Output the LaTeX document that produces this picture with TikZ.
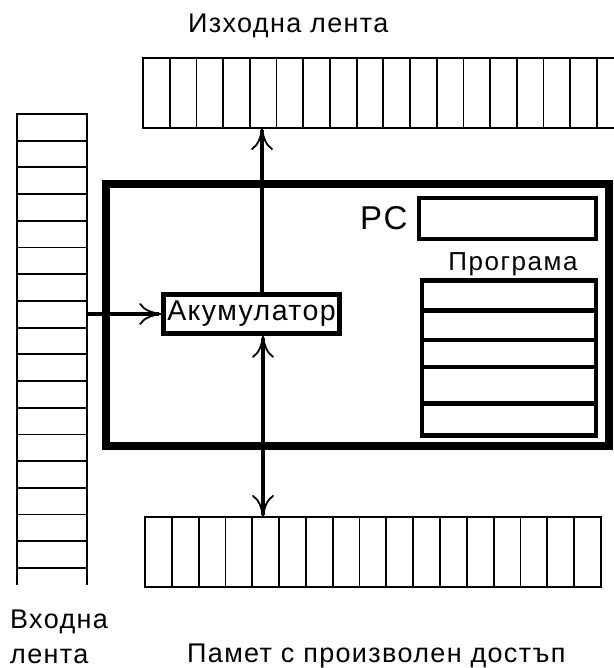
\documentclass[tikz,border=0pt]{standalone}
\usepackage{fontspec}
\setmainfont{Liberation Sans}[LetterSpace=5]
\usetikzlibrary{arrows.meta, positioning, calc}

\begin{document}
\begin{tikzpicture}[x=1pt, y=-1pt,
    tape/.style={draw, line width=1.8pt, inner sep=0pt, outer sep=0pt},
    frame/.style={draw, line width=8pt},
    reg/.style={draw, line width=4.5pt, inner sep=0pt},
    row/.style={line width=4.5pt},
    label/.style={inner sep=0pt, font=\fontsize{27}{35}\selectfont},
    flow/.style={line width=4pt, -{To[length=22pt, width=22pt, line width=1.8pt]}},
    biflow/.style={line width=4pt, {To[length=22pt, width=22pt, line width=1.8pt]}-{To[length=22pt, width=22pt, line width=1.8pt]}}]
  \useasboundingbox (0,0) rectangle (613,668);

  % main frame
  \draw[frame] (106,184) rectangle (609,446);

  % tapes
  \node[tape, minimum width=490pt, minimum height=70pt, anchor=north west] (outtape) at (143,58) {};
  \foreach \i in {1,...,17}
    \draw[tape] (143+\i*26.7,58) -- (143+\i*26.7,128);
  \node[inner sep=0pt, outer sep=0pt, minimum width=70pt, minimum height=471pt, anchor=north west] (intape) at (17,114) {};
  \draw[tape] (intape.south west) |- (intape.north east) -- (intape.south east);
  \foreach \i in {1,...,17}
    \draw[tape] (17,114+\i*26.7) -- (87,114+\i*26.7);
  \node[tape, minimum width=456pt, minimum height=70pt, anchor=north west] (memtape) at (145,517) {};
  \foreach \i in {1,...,16}
    \draw[tape] (145+\i*26.82,517) -- (145+\i*26.82,587);

  % registers
  \node[reg, minimum width=176pt, minimum height=39pt, font=\fontsize{28.5}{30}\selectfont] (acc) at (251.5,314) {Акумулатор};
  \node[reg, minimum width=177pt, minimum height=41pt] (pc) at (507.5,218.5) {};
  \node[label, font=\fontsize{33}{36}\selectfont, left=9pt of pc] (pclbl) {PC};
  \node[reg, minimum width=174pt, minimum height=155pt] (prog) at (509,358) {};
  \foreach \y in {310.5,340,367,403.5}
    \draw[row] (prog.west |- 0,\y) -- (prog.east |- 0,\y);
  \node[label, font=\fontsize{26}{28}\selectfont\addfontfeature{LetterSpace=6}, above=2pt of prog, xshift=4pt] (proglbl) {Програма};

  % connectors
  \draw[flow] (acc.west -| intape.east) -- (acc.west);
  \draw[flow] ([xshift=10.5pt]acc.north) -- ([xshift=10.5pt]acc.north |- outtape.south);
  \draw[biflow] ([xshift=11.5pt]acc.south) -- ([xshift=11.5pt]acc.south |- memtape.north);

  % labels
  \node[label, anchor=base west] (outlbl) at (188,33) {Изходна лента};
  \node[label, align=left, anchor=north west] (inlbl) at (10,610) {Входна\\лента};
  \node[label, anchor=base west] (memlbl) at (187,662) {Памет с произволен достъп};
\end{tikzpicture}
\end{document}
